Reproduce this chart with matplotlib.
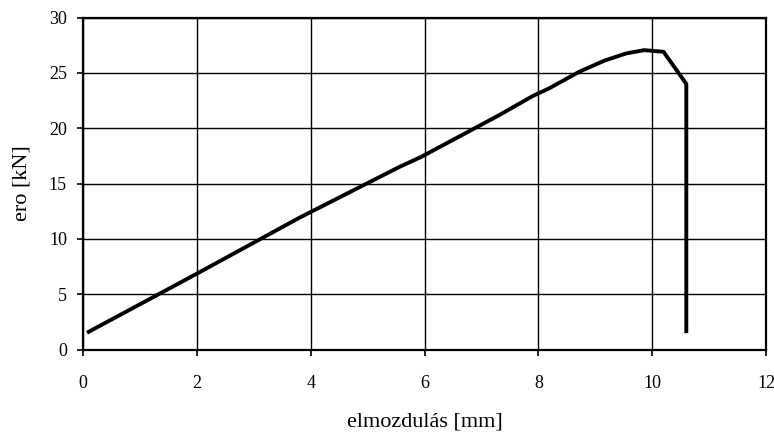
import matplotlib
matplotlib.use("Agg")
import matplotlib.pyplot as plt

displacement = [0.1, 2.0, 3.8, 5.56, 5.94, 7.32, 7.9, 8.19, 8.72, 9.16, 9.54, 9.86, 10.2, 10.6, 10.6]
force = [1.6, 6.85, 11.9, 16.5, 17.4, 21.2, 22.9, 23.6, 25.1, 26.1, 26.75, 27.05, 26.9, 24.0, 1.65]

x_ticks = [0, 2, 4, 6, 8, 10, 12]
y_ticks = [0, 5, 10, 15, 20, 25, 30]
x_label = "elmozdulás [mm]"
y_label = "ero [kN]"

plt.rcParams['font.family'] = ['Liberation Serif', 'DejaVu Serif']
plt.rcParams['font.size'] = 13

fig = plt.figure(figsize=(7.74, 4.32), dpi=100)
ax = fig.add_axes([83/774, 1-349.5/432, 683/774, 332/432])

ax.plot(displacement, force, color='black', lw=2.8, solid_joinstyle='miter', zorder=3)

ax.set_xlim(0, 12)
ax.set_ylim(0, 30)
ax.set_xticks(x_ticks)
ax.set_yticks(y_ticks)
ax.grid(True, color='black', lw=1.0)
for s in ax.spines.values():
    s.set_linewidth(1.6)
    s.set_color('black')
ax.tick_params(axis='both', direction='out', length=4.5, width=1.2, colors='black', labelsize=13)
ax.tick_params(axis='x', pad=14)
ax.tick_params(axis='y', pad=7)

ax.set_xlabel(x_label, fontsize=16)
ax.set_ylabel(y_label, fontsize=16)
ax.xaxis.set_label_coords(0.5, -0.218)
ax.xaxis.label.set_va('center')
ax.yaxis.set_label_coords(-0.089, 0.5)
ax.yaxis.label.set_va('center')

fig.savefig("out.png", dpi=100)
